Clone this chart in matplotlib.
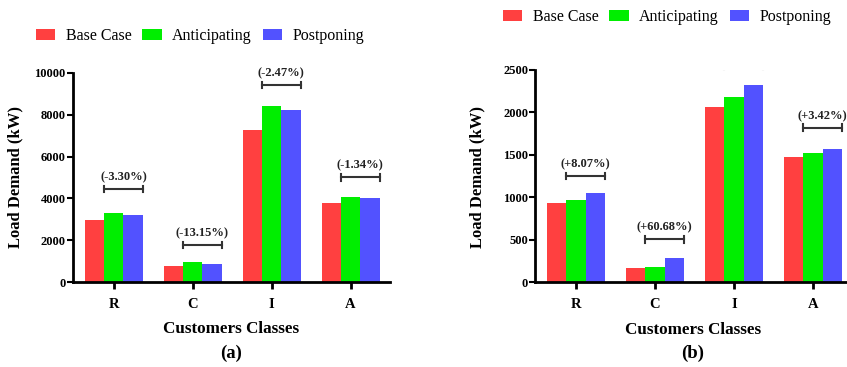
import numpy as np
import matplotlib
matplotlib.use("Agg")
import matplotlib.pyplot as plt

plt.rcParams['font.family'] = ['Liberation Serif', 'DejaVu Serif']

classes = ['R', 'C', 'I', 'A']
series = ['Base Case', 'Anticipating', 'Postponing']
colors = ['#FF4040', '#00EE00', '#5252FF']

# (a)
base_a = [2970, 780, 7265, 3770]
antic_a = [3320, 985, 8425, 4055]
postp_a = [3210, 856, 8217, 4000]
pct_a = ['(-3.30%)', '(-13.15%)', '(-2.47%)', '(-1.34%)']
brk_a = [4450, 1780, 9410, 5010]

# (b)
base_b = [930, 173, 2060, 1472]
antic_b = [968, 176, 2186, 1518]
postp_b = [1047, 283, 2323, 1570]
pct_b = ['(+8.07%)', '(+60.68%)', '(+5.88%)', '(+3.42%)']
brk_b = [1252, 506, 2547, 1821]

fig = plt.figure(figsize=(8.47, 3.67), dpi=100)
ax1 = fig.add_axes([72.7/847, 84.7/367, 317.3/847, 209.6/367])
ax2 = fig.add_axes([535/847, 84.7/367, 317.3/847, 212.3/367])

w = 0.245
x = np.arange(len(classes))


def draw(ax, vals, pct, brk, ymax, step, capv):
    for k, v in enumerate(vals):
        ax.bar(x + (k - 1) * w, v, w, color=colors[k], label=series[k],
               edgecolor='none')
    for i in range(len(classes)):
        x0, x1 = x[i] - w / 2, x[i] + 1.5 * w
        ax.plot([x0, x1], [brk[i], brk[i]], color='#333333', lw=1.5)
        ax.plot([x0, x0], [brk[i] - capv, brk[i] + capv], color='#333333', lw=1.5)
        ax.plot([x1, x1], [brk[i] - capv, brk[i] + capv], color='#333333', lw=1.5)
        ax.annotate(pct[i], ((x0 + x1) / 2, brk[i]), xytext=(0, 8.5),
                    textcoords='offset points', ha='center', va='center',
                    fontsize=9, fontweight='bold', color='#222222')
    ax.set_xlim(-0.52, 3.5)
    ax.set_ylim(0, ymax)
    ax.set_yticks(np.arange(0, ymax + 1, step))
    ax.set_xticks(x)
    ax.set_xticklabels(classes, fontsize=10.5, fontweight='bold')
    for t in ax.get_yticklabels():
        t.set_fontweight('bold')
        t.set_fontsize(9)
    ax.spines['top'].set_visible(False)
    ax.spines['right'].set_visible(False)
    ax.spines['left'].set_linewidth(2)
    ax.spines['bottom'].set_linewidth(2)
    ax.tick_params(axis='y', length=4, width=1.5, pad=1)
    ax.tick_params(axis='x', length=5, width=2, pad=6)


draw(ax1, [base_a, antic_a, postp_a], pct_a, brk_a, 10000, 2000, 160)
draw(ax2, [base_b, antic_b, postp_b], pct_b, brk_b, 2500, 500, 40)

leg_kw = dict(loc='center left', bbox_transform=fig.transFigure, ncol=3,
              frameon=False, fontsize=11.5, borderpad=0, borderaxespad=0,
              handlelength=1.2, handletextpad=0.65, columnspacing=0.7)
ax1.legend(bbox_to_anchor=(36/847, 1 - 36/367), **leg_kw)
ax2.legend(bbox_to_anchor=(503/847, 1 - 17/367), **leg_kw)

for xc in [15/847, 477/847]:
    fig.text(xc, 1 - 177/367, 'Load Demand (kW)', rotation=90, ha='center',
             va='center', fontsize=12, fontweight='bold')
fig.text(231/847, 1 - 329/367, 'Customers Classes', ha='center', va='center',
         fontsize=12.3, fontweight='bold')
fig.text(693/847, 1 - 330/367, 'Customers Classes', ha='center', va='center',
         fontsize=12.3, fontweight='bold')
fig.text(231/847, 1 - 353/367, '(a)', ha='center', va='center',
         fontsize=13.5, fontweight='bold')
fig.text(693/847, 1 - 353/367, '(b)', ha='center', va='center',
         fontsize=13.5, fontweight='bold')

fig.savefig('out.png', dpi=100)
